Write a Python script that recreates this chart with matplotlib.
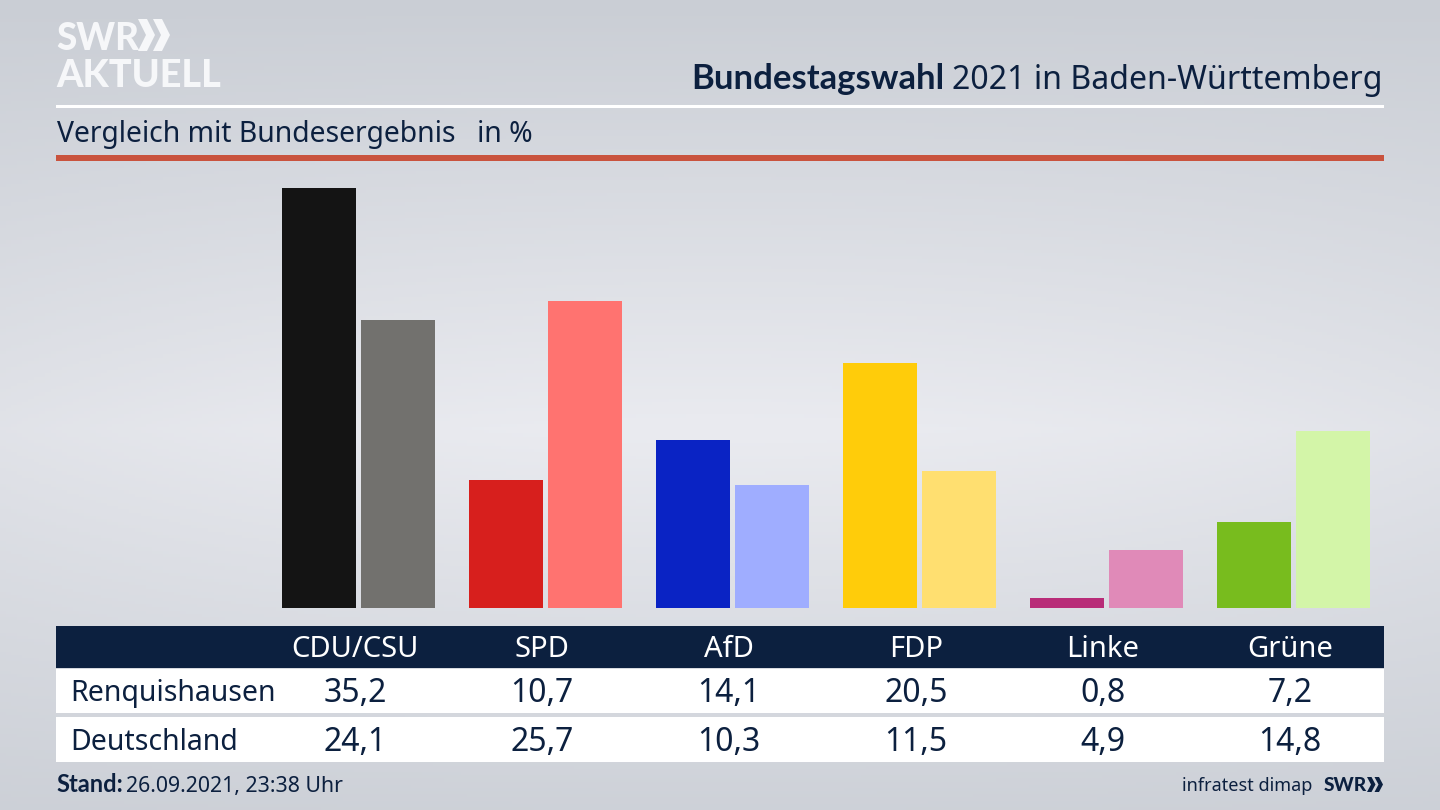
import numpy as np
import matplotlib
matplotlib.use("Agg")
import matplotlib.pyplot as plt
from matplotlib.patches import Rectangle, Polygon

parties = ["CDU/CSU", "SPD", "AfD", "FDP", "Linke", "Grüne"]
renquishausen = [35.2, 10.7, 14.1, 20.5, 0.8, 7.2]
deutschland = [24.1, 25.7, 10.3, 11.5, 4.9, 14.8]
colors_local = ["#141414", "#d71f1d", "#0a23c4", "#ffcc0a", "#b82c78", "#78bc1e"]
colors_national = ["#72716e", "#ff7370", "#9fadff", "#ffdf70", "#e08ab8", "#d3f5a8"]
row_labels = ["Renquishausen", "Deutschland"]

W, H = 1440, 810
FONT = "Noto Sans"
BOLD = "Lato"
NAVY = "#0c203f"
plt.rcParams["font.family"] = FONT

fig = plt.figure(figsize=(W / 100, H / 100), dpi=100)

# background and furniture in pixel coordinates
bg = fig.add_axes([0, 0, 1, 1])
bg.set_xlim(0, W)
bg.set_ylim(H, 0)
bg.axis("off")
yy = np.linspace(0, 1, 256)
xx = np.linspace(0, 1, 256)
X, Y = np.meshgrid(xx, yy)
vert = 1 - np.abs(Y - 0.53) / 0.53
vert = np.clip(vert, 0, 1)
horiz = 1 - 0.28 * np.abs(X - 0.5) ** 2 * 4
t = (vert * horiz)[..., None]
top = np.array([0xca, 0xce, 0xd5]) / 255
mid = np.array([0xea, 0xeb, 0xf0]) / 255
bg.imshow(top + (mid - top) * t, extent=[0, W, H, 0], aspect="auto", zorder=0)
bg.set_xlim(0, W)
bg.set_ylim(H, 0)


def rect(x0, y0, x1, y1, color, z=1):
    bg.add_patch(Rectangle((x0, y0), x1 - x0, y1 - y0, facecolor=color, edgecolor="none", zorder=z))


def chevrons(x, y0, y1, thick, slope, gap, color):
    for k in range(2):
        x0 = x + k * gap
        ym = (y0 + y1) / 2
        pts = [(x0, y0), (x0 + thick, y0), (x0 + thick + slope, ym),
               (x0 + thick, y1), (x0, y1), (x0 + slope, ym)]
        bg.add_patch(Polygon(pts, closed=True, facecolor=color, edgecolor="none", zorder=3))


rect(56, 104.5, 1384, 107.5, "white")
rect(56, 155, 1384, 160.5, "#c9533e")
rect(56, 626, 1384, 668, NAVY)
rect(56, 669, 1384, 713, "white")
rect(56, 717, 1384, 762, "white")

# logo
LOGO_C = "#f6f7f9"
bg.text(56, 50.5, "SWR", fontsize=26.5, fontweight="black", color=LOGO_C, family=BOLD, va="baseline", ha="left", zorder=3)
chevrons(138, 19, 51, 9, 8, 15, LOGO_C)
bg.text(56, 87, "AKTUELL", fontsize=27.2, fontweight="black", color=LOGO_C, family=BOLD, va="baseline", ha="left", zorder=3)

# title
bg.text(1383, 89, "2021 in Baden-Württemberg", fontsize=23.1, color=NAVY, ha="right", va="baseline", zorder=3)
bg.text(944, 89, "Bundestagswahl", fontsize=24.9, fontweight="bold", color=NAVY, family=BOLD, ha="right", va="baseline", zorder=3)
bg.text(57, 142, "Vergleich mit Bundesergebnis", fontsize=20.4, color=NAVY, ha="left", va="baseline", zorder=3)
bg.text(477, 142, "in %", fontsize=20.4, color=NAVY, ha="left", va="baseline", zorder=3)

# bars
x_step = 187.0
x_zero = 358.4
px_per_unit = 11.93
base_px, top_px = 608, 160
ax = fig.add_axes([56 / W, 1 - base_px / H, (1384 - 56) / W, (base_px - top_px) / H])
ax.patch.set_alpha(0)
ax.set_xlim((56 - x_zero) / x_step, (1384 - x_zero) / x_step)
ax.set_ylim(0, (base_px - top_px) / px_per_unit)
ax.axis("off")
pos = np.arange(len(parties))
bar_w = 73.6 / x_step
off = 39.6 / x_step
ax.bar(pos - off, renquishausen, bar_w, color=colors_local)
ax.bar(pos + off, deutschland, bar_w, color=colors_national)

# table
for i, p in enumerate(parties):
    cx = x_zero - 3.4 + i * x_step
    bg.text(cx, 657, p, fontsize=21, color="white", ha="center", va="baseline", zorder=3)
    bg.text(cx, 702, f"{renquishausen[i]:.1f}".replace(".", ","), fontsize=23, color=NAVY, ha="center", va="baseline", zorder=3)
    bg.text(cx, 751, f"{deutschland[i]:.1f}".replace(".", ","), fontsize=23, color=NAVY, ha="center", va="baseline", zorder=3)
bg.text(70.5, 701, row_labels[0], fontsize=20.5, color=NAVY, ha="left", va="baseline", zorder=3)
bg.text(70.5, 750, row_labels[1], fontsize=20.5, color=NAVY, ha="left", va="baseline", zorder=3)

# footer
bg.text(56, 792, "Stand:", fontsize=17, fontweight="bold", color=NAVY, family=BOLD, ha="left", va="baseline", zorder=3)
bg.text(126, 792, "26.09.2021, 23:38 Uhr", fontsize=15.3, color=NAVY, ha="left", va="baseline", zorder=3)
bg.text(1312, 791, "infratest dimap", fontsize=13, color=NAVY, ha="right", va="baseline", zorder=3)
bg.text(1324, 791, "SWR", fontsize=13.8, fontweight="black", color=NAVY, family=BOLD, ha="left", va="baseline", zorder=3)
chevrons(1367, 777, 792, 4.5, 4, 7.5, NAVY)

fig.savefig("out.png", dpi=100)
